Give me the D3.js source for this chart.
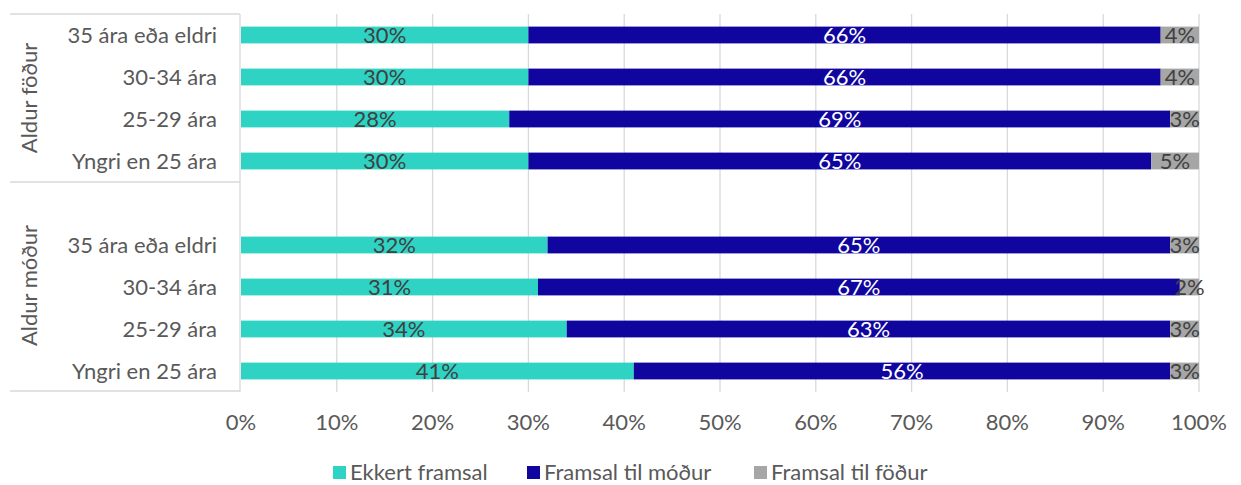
<!DOCTYPE html>
<html>
<head>
<meta charset="utf-8">
<script src="https://cdn.jsdelivr.net/npm/d3@7"></script>
<style>
  body { margin: 0; background: #fff; }
  text { font-family: Lato, "Open Sans", sans-serif; }
</style>
</head>
<body>
<div id="chart"></div>
<script>
// data, top to bottom within each group
var groups = ["Aldur föður", "Aldur móður"];
var categories = ["35 ára eða eldri", "30-34 ára", "25-29 ára", "Yngri en 25 ára"];
var seriesNames = ["Ekkert framsal", "Framsal til móður", "Framsal til föður"];
var fatherValues = [[30, 66, 4], [30, 66, 4], [28, 69, 3], [30, 65, 5]];
var motherValues = [[32, 65, 3], [31, 67, 2], [34, 63, 3], [41, 56, 3]];
var xTicks = [0, 10, 20, 30, 40, 50, 60, 70, 80, 90, 100];

var colors = ["#2ED3C3", "#10069F", "#A6A6A6"];
var labelColors = ["#404040", "#ffffff", "#404040"];

var W = 1241, H = 485;
var plotLeft = 241, plotRight = 1199, plotTop = 14, plotBottom = 392;
var FS = "22px";

var svg = d3.select("#chart").append("svg")
    .attr("width", W)
    .attr("height", H);

// build rows: 4 father rows, a blank slot, 4 mother rows
var rows = [];
categories.forEach(function(c, i) { rows.push({ key: "f" + i, cat: c, vals: fatherValues[i] }); });
rows.push({ key: "gap", cat: "", vals: null });
categories.forEach(function(c, i) { rows.push({ key: "m" + i, cat: c, vals: motherValues[i] }); });

var x = d3.scaleLinear().domain([0, 100]).range([plotLeft, plotRight]);
var y = d3.scaleBand()
    .domain(rows.map(function(r) { return r.key; }))
    .range([plotTop, plotBottom])
    .paddingInner(0.6)
    .paddingOuter(0.3);

// gridlines
svg.append("g").selectAll("line")
    .data(xTicks.slice(1))
    .enter().append("line")
    .attr("x1", function(d) { return x(d); })
    .attr("x2", function(d) { return x(d); })
    .attr("y1", plotTop)
    .attr("y2", plotBottom)
    .style("stroke", "#d9d9d9")
    .style("stroke-width", 1.3);

// category axis frame
var frame = svg.append("g").style("stroke", "#d9d9d9").style("stroke-width", 1.3);
frame.append("line").attr("x1", 240).attr("x2", 240).attr("y1", plotTop).attr("y2", plotBottom);
var sepY = y("gap") + y.bandwidth() / 2 - 21;
var bottomY = 391;
[plotTop, sepY, bottomY].forEach(function(yy) {
    frame.append("line").attr("x1", 10).attr("x2", 240).attr("y1", yy).attr("y2", yy);
});

// x tick labels
svg.append("g").selectAll("text")
    .data(xTicks)
    .enter().append("text")
    .attr("x", function(d) { return x(d); })
    .attr("y", 422)
    .attr("dy", "0.35em")
    .attr("text-anchor", "middle")
    .style("font-size", FS)
    .style("fill", "#595959")
    .text(function(d) { return d + "%"; });

// category labels
svg.append("g").selectAll("text")
    .data(rows.filter(function(r) { return r.vals; }))
    .enter().append("text")
    .attr("x", 217)
    .attr("y", function(r) { return y(r.key) + y.bandwidth() / 2; })
    .attr("dy", "0.35em")
    .attr("text-anchor", "end")
    .style("font-size", FS)
    .style("fill", "#595959")
    .text(function(r) { return r.cat; });

// group labels (rotated)
var groupCenters = [(plotTop + sepY) / 2, (sepY + bottomY) / 2 - 1];
groups.forEach(function(g, i) {
    svg.append("text")
        .attr("transform", "translate(29," + groupCenters[i] + ") rotate(-90)")
        .attr("dy", "0.35em")
        .attr("text-anchor", "middle")
        .style("font-size", FS)
        .style("fill", "#595959")
        .text(g);
});

// stacked bars
rows.filter(function(r) { return r.vals; }).forEach(function(r) {
    var acc = 0;
    var cy = y(r.key) + y.bandwidth() / 2;
    r.vals.forEach(function(v, s) {
        var x0 = x(acc), x1 = x(acc + v);
        svg.append("rect")
            .attr("x", x0)
            .attr("y", y(r.key))
            .attr("width", x1 - x0)
            .attr("height", y.bandwidth())
            .style("fill", colors[s]);
        svg.append("text")
            .attr("x", (x0 + x1) / 2)
            .attr("y", cy)
            .attr("dy", "0.36em")
            .attr("text-anchor", "middle")
            .style("font-size", FS)
            .style("fill", labelColors[s])
            .text(v + "%");
        acc += v;
    });
});

// legend
var legendX = [333, 527, 754];
var legend = svg.append("g");
seriesNames.forEach(function(n, i) {
    legend.append("rect")
        .attr("x", legendX[i])
        .attr("y", 466)
        .attr("width", 13)
        .attr("height", 13)
        .style("fill", colors[i]);
    legend.append("text")
        .attr("x", legendX[i] + 17)
        .attr("y", 472)
        .attr("dy", "0.35em")
        .style("font-size", FS)
        .style("fill", "#595959")
        .text(n);
});
</script>
</body>
</html>
